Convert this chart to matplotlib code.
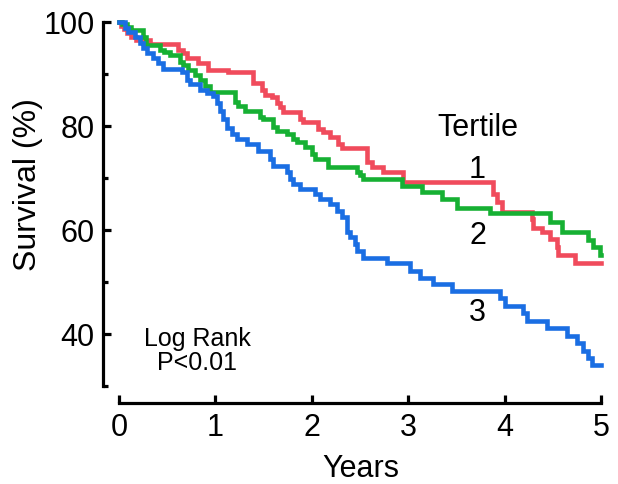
import matplotlib
matplotlib.use("Agg")
import matplotlib.pyplot as plt

plt.rcParams['font.family'] = ['Liberation Sans', 'DejaVu Sans']

# Tertile 1 (red)
years_t1 = [0, 0.021, 0.052, 0.083, 0.124, 0.176, 0.322, 0.612, 0.664, 0.705, 0.820,
            0.923, 1.131, 1.390, 1.483, 1.515, 1.587, 1.639, 1.670, 1.701, 1.878,
            1.909, 2.064, 2.116, 2.189, 2.272, 2.313, 2.573, 2.624, 2.739, 2.946,
            3.880, 3.921, 3.973, 4.284, 4.295, 4.388, 4.471, 4.544, 4.554, 4.730, 5.0]
surv_t1 = [100, 99.2, 98.7, 97.9, 97.1, 96.6, 95.8, 94.6, 94.1, 93.1, 92.2,
           90.8, 90.3, 88.3, 87.0, 86.0, 85.5, 84.5, 83.6, 82.6, 81.3,
           80.7, 79.4, 78.8, 77.8, 76.5, 75.7, 73.1, 72.1, 71.1, 69.2,
           66.9, 65.4, 63.5, 62.2, 60.3, 59.7, 58.3, 56.8, 55.1, 53.6, 53.6]

# Tertile 2 (green)
years_t2 = [0, 0.031, 0.083, 0.124, 0.249, 0.280, 0.425, 0.467, 0.529, 0.633, 0.664,
            0.716, 0.788, 0.840, 0.892, 0.944, 1.203, 1.234, 1.307, 1.463, 1.494,
            1.598, 1.639, 1.743, 1.805, 1.846, 1.929, 2.002, 2.033, 2.168, 2.469,
            2.500, 2.531, 2.936, 3.143, 3.351, 3.506, 3.849, 4.471, 4.595, 4.865,
            4.917, 4.990, 5.0]
surv_t2 = [100, 99.6, 99.0, 98.5, 97.1, 95.6, 94.6, 94.3, 93.7, 92.4, 91.8,
           90.8, 89.9, 88.9, 87.6, 86.6, 84.7, 83.8, 82.8, 81.8, 81.3,
           79.9, 79.0, 78.4, 77.5, 76.9, 75.9, 74.6, 73.6, 72.1, 71.1,
           70.6, 69.8, 68.5, 67.3, 66.0, 64.3, 63.3, 61.6, 59.7, 58.0,
           56.8, 55.1, 55.1]

# Tertile 3 (blue)
years_t3 = [0, 0.062, 0.093, 0.166, 0.218, 0.249, 0.290, 0.353, 0.405, 0.456, 0.654,
            0.705, 0.737, 0.840, 0.913, 0.975, 1.017, 1.048, 1.079, 1.120, 1.172,
            1.224, 1.328, 1.442, 1.566, 1.598, 1.743, 1.774, 1.805, 1.878, 2.033,
            2.085, 2.189, 2.261, 2.313, 2.365, 2.396, 2.448, 2.469, 2.531, 2.780,
            3.019, 3.122, 3.257, 3.454, 3.952, 4.004, 4.191, 4.232, 4.440, 4.647,
            4.751, 4.813, 4.865, 4.907, 5.0]
surv_t3 = [100, 98.9, 98.1, 97.1, 96.0, 95.0, 94.1, 93.1, 92.2, 91.0, 90.3,
           88.9, 88.0, 87.0, 86.4, 85.7, 84.5, 82.8, 81.3, 79.7, 78.4,
           77.5, 76.5, 75.2, 73.6, 72.3, 71.1, 69.8, 68.9, 67.9, 66.9,
           66.0, 65.0, 63.7, 62.5, 59.7, 58.7, 57.4, 55.9, 54.7, 53.6,
           52.2, 50.7, 49.7, 48.2, 46.9, 45.3, 44.0, 42.5, 41.1, 39.6,
           38.3, 36.7, 35.4, 34.1, 34.1]

x_ticks = [0, 1, 2, 3, 4, 5]
y_ticks = [40, 60, 80, 100]
y_minor = [30, 50, 70, 90]
tertile_labels = ["1", "2", "3"]

colors = ["#F04B5C", "#16B033", "#1A6EE3"]

W, H = 618, 484
fig = plt.figure(figsize=(W / 100, H / 100), dpi=100)
ax = fig.add_axes([119 / W, 1 - 386 / H, (601 - 119) / W, (386 - 22) / H])
ax.set_xlim(0, 5)
ax.set_ylim(30, 100)

for t, s, c in zip([years_t1, years_t2, years_t3], [surv_t1, surv_t2, surv_t3], colors):
    ax.plot(t, s, drawstyle='steps-post', color=c, lw=3.3,
            solid_joinstyle='miter', clip_on=False)

for side in ['top', 'right']:
    ax.spines[side].set_visible(False)
ax.spines['left'].set_position(('outward', 11.5))
ax.spines['bottom'].set_position(('outward', 12.2))
ax.spines['left'].set_bounds(30, 100)
ax.spines['bottom'].set_bounds(0, 5)
for side in ['left', 'bottom']:
    ax.spines[side].set_linewidth(2.3)
    ax.spines[side].set_capstyle('projecting')

ax.set_xticks(x_ticks)
ax.set_xticklabels([str(v) for v in x_ticks])
ax.set_yticks(y_ticks)
ax.set_yticklabels([str(v) for v in y_ticks])
ax.set_yticks(y_minor, minor=True)

ax.tick_params(axis='both', which='major', direction='in', length=6, width=2.3,
               labelsize=22, color='black')
ax.tick_params(axis='y', which='minor', direction='in', length=3.8, width=2.3)
ax.tick_params(axis='y', which='major', pad=6)
ax.tick_params(axis='x', which='major', pad=7)

fig.text(28 / W, 1 - 185 / H, "Survival (%)", rotation=90, ha='center', va='center',
         fontsize=23)
fig.text(361 / W, 1 - 469 / H, "Years", ha='center', va='center', fontsize=22)

ax.text(3.72, 79.6, "Tertile", ha='center', va='center', fontsize=22)
for lab, yv in zip(tertile_labels, [71.6, 58.8, 44.0]):
    ax.text(3.72, yv, lab, ha='center', va='center', fontsize=22)

ax.text(0.81, 39.1, "Log Rank", ha='center', va='center', fontsize=18)
ax.text(0.81, 34.5, "P<0.01", ha='center', va='center', fontsize=18)

fig.savefig("out.png", dpi=100)
